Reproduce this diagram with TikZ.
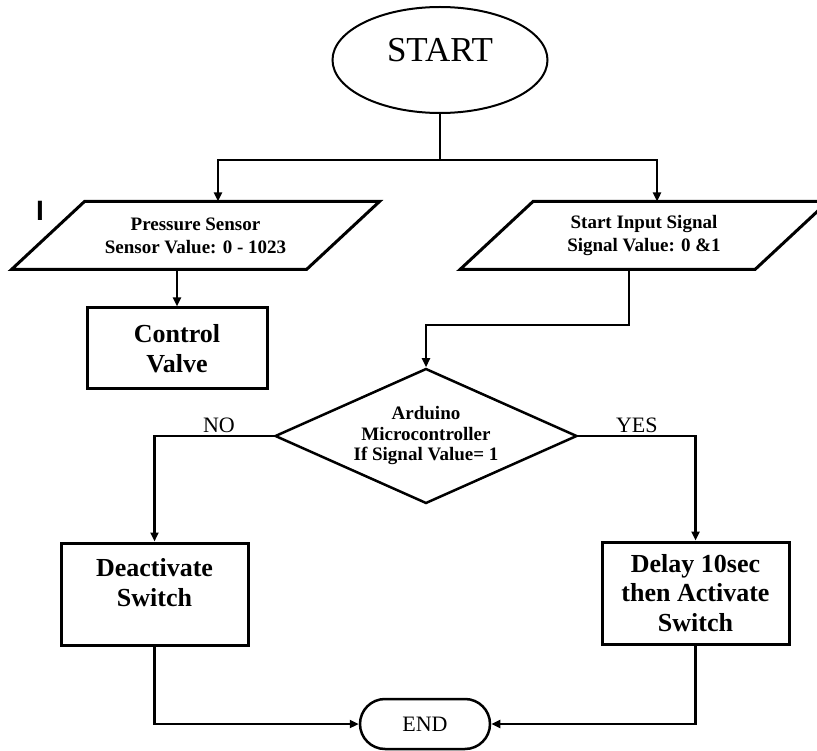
\documentclass[tikz,border=0pt]{standalone}
\usepackage{fontspec}
\setmainfont{Liberation Serif}
\newfontfamily\cursorfont{Liberation Sans}
\usetikzlibrary{shapes.geometric, shapes.misc, arrows.meta}
\usetikzlibrary{positioning}
\usetikzlibrary{calc}

\begin{document}
\begin{tikzpicture}[
                x=1pt, y=-1pt,
                line width=2.5pt,
                >={Triangle[length=9pt,width=8pt]},
                terminal/.style={
                        draw,
                        ellipse,
                        line width=2pt,
                        minimum width=215pt,
                        minimum height=106pt,
                        inner sep=0pt,
                        text depth=20pt,
                        font=\fontsize{35}{40}\selectfont
                    },
                io/.style={
                        rectangle,
                        line width=3pt,
                        minimum width=292pt,
                        minimum height=65pt,
                        inner sep=0pt,
                        align=center,
                        font=\bfseries\fontsize{19}{23}\selectfont
                    },
                ioline/.style={
                        draw,
                        line width=3pt,
                        line join=miter
                    },
                process/.style={
                        draw,
                        rectangle,
                        line width=3pt,
                        inner sep=0pt,
                        align=center,
                        font=\bfseries\fontsize{26}{29.5}\selectfont
                    },
                decision/.style={
                        draw,
                        diamond,
                        aspect=2.24,
                        minimum width=302pt,
                        minimum height=135pt,
                        inner sep=0pt,
                        align=center,
                        font=\bfseries\fontsize{19}{20.5}\selectfont
                    },
                stopnode/.style={
                        draw,
                        rounded rectangle,
                        minimum width=130pt,
                        minimum height=50pt,
                        inner sep=0pt,
                        font=\fontsize{22}{24}\selectfont
                    },
                branch/.style={
                        draw=none,
                        inner sep=2pt,
                        font=\fontsize{22}{24}\selectfont
                    }
            ]
            \useasboundingbox (0,0) rectangle (817,751);

            % Flow nodes
            \node[terminal] (start) at (440,60) {START};
            \node[io] (press) at (195.5,235.5) {Pressure Sensor\\Sensor Value: 0 - 1023};
            \node[io] (input) at (644,235.5) {Start Input Signal\\Signal Value: 0 \&1};
            \node[process, minimum width=180pt, minimum height=81pt] (valve) at (177,348.5) {Control\\Valve};
            \node[decision] (dec) at (426,436) {Arduino\\Microcontroller\\If Signal Value= 1};
            \node[process, minimum width=187pt, minimum height=102pt, text depth=23pt] (deact) at (154.5,594) {Deactivate\\Switch};
            \node[process, minimum width=187pt, minimum height=102pt] (delay) at (695.5,593) {Delay 10sec\\then Activate\\Switch};
            \node[stopnode] (finish) at (425,724) {END};
            \node[font=\cursorfont\bfseries\fontsize{28}{30}\selectfont, inner sep=0pt] (mark) at (40,211) {I};

            % Slanted outlines of the input boxes
            \foreach \n in {press,input}
                \draw[ioline] ($(\n.south west)+(-36.5,0)$) -- ($(\n.north west)+(36.5,0)$)
                    -- ($(\n.north east)+(36.5,0)$) -- ($(\n.south east)+(-36.5,0)$) -- cycle;

            % Connectors
            \coordinate (split) at (440,160);
            \draw (start) -- (split);
            \draw[->] (split) -| ([xshift=22.5pt]press.north);
            \draw[->] (split) -| ([xshift=13pt]input.north);
            \draw[->] (press.south -| valve.north) -- (valve.north);
            \draw[->] ([xshift=-15pt]input.south) |- ([yshift=42pt]dec.north) -- (dec.north);
            \draw[->] (dec.west) -| (deact.north) node[branch, pos=0.23, above] {NO};
            \draw[->] (dec.east) -| (delay.north) node[branch, pos=0.25, above] {YES};
            \draw[->] (deact.south) |- (finish.west);
            \draw[->] (delay.south) |- (finish.east);

        \end{tikzpicture}
\end{document}
